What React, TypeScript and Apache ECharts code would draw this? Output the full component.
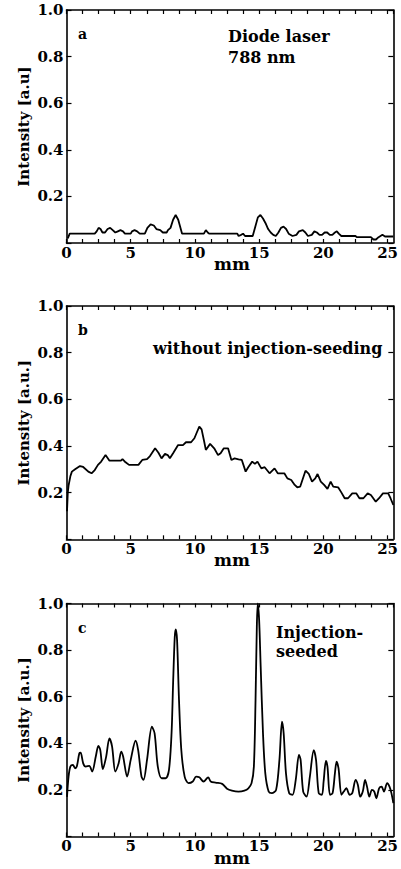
import React, { useEffect, useRef } from "react";
import * as echarts from "echarts";

const X_MAX = 25.45;
const xLabelValues = [0, 5, 10, 15, 20, 25];
const yLabelValues = [0.2, 0.4, 0.6, 0.8, 1.0];
const panelLabels = ["a", "b", "c"];
const yAxisNames = ["Intensity [a.u]", "Intensity [a.u.]", "Intensity [a.u.]"];
const xAxisName = "mm";
const annotationA = ["Diode laser", "788 nm"];
const annotationB = ["without injection-seeding"];
const annotationC = ["Injection-", "seeded"];

const seriesA: [number, number][] = [
  [0.1, 0.02], [0.25, 0.04], [2.2, 0.04], [2.35, 0.05], [2.5, 0.065], [2.65, 0.06], [2.8, 0.045],
  [3.0, 0.045], [3.2, 0.06], [3.4, 0.065], [3.6, 0.055], [3.8, 0.045], [4.0, 0.05], [4.2, 0.055],
  [4.4, 0.05], [4.55, 0.04], [5.0, 0.04], [5.1, 0.05], [5.3, 0.055], [5.5, 0.05], [5.7, 0.04],
  [6.1, 0.04], [6.3, 0.065], [6.55, 0.08], [6.8, 0.075], [7.0, 0.06], [7.3, 0.055], [7.5, 0.045],
  [7.8, 0.045], [7.9, 0.055], [8.1, 0.065], [8.3, 0.1], [8.5, 0.12], [8.7, 0.1], [8.85, 0.07],
  [9.0, 0.04], [10.7, 0.04], [10.85, 0.055], [11.0, 0.045], [11.1, 0.04], [13.3, 0.04], [13.4, 0.03],
  [13.6, 0.035], [13.75, 0.04], [13.9, 0.03], [14.5, 0.03], [14.7, 0.07], [14.9, 0.11], [15.1, 0.12],
  [15.3, 0.105], [15.5, 0.085], [15.7, 0.06], [15.9, 0.045], [16.1, 0.035], [16.3, 0.03], [16.5, 0.045],
  [16.7, 0.065], [16.9, 0.07], [17.1, 0.06], [17.3, 0.04], [17.6, 0.03], [17.9, 0.035], [18.1, 0.05],
  [18.4, 0.055], [18.6, 0.045], [18.8, 0.03], [19.1, 0.035], [19.3, 0.05], [19.5, 0.045], [19.7, 0.035],
  [19.9, 0.035], [20.1, 0.045], [20.3, 0.045], [20.5, 0.035], [20.7, 0.035], [20.9, 0.045], [21.05, 0.05],
  [21.2, 0.04], [21.4, 0.03], [22.5, 0.03], [22.6, 0.025], [23.7, 0.025], [23.9, 0.015], [24.1, 0.015],
  [24.3, 0.025], [24.6, 0.035], [24.8, 0.028], [25.45, 0.028],
];

const seriesB: [number, number][] = [
  [0.04, 0.12], [0.1, 0.2], [0.16, 0.23], [0.3, 0.27], [0.42, 0.29], [0.67, 0.3], [1.05, 0.314],
  [1.3, 0.31], [1.7, 0.29], [1.95, 0.283], [2.2, 0.297], [2.45, 0.319], [2.7, 0.333], [3.04, 0.361],
  [3.35, 0.337], [3.85, 0.337], [4.24, 0.337], [4.36, 0.344], [4.6, 0.33], [4.87, 0.319], [5.6, 0.319],
  [5.9, 0.34], [6.27, 0.344], [6.5, 0.357], [6.9, 0.39], [7.16, 0.371], [7.4, 0.347], [7.67, 0.366],
  [7.88, 0.361], [8.05, 0.347], [8.3, 0.369], [8.69, 0.404], [9.07, 0.404], [9.3, 0.416], [9.7, 0.416],
  [9.96, 0.433], [10.17, 0.461], [10.34, 0.483], [10.52, 0.471], [10.72, 0.419], [10.85, 0.383],
  [11.18, 0.409], [11.5, 0.39], [11.8, 0.361], [12.0, 0.369], [12.25, 0.39], [12.58, 0.39], [12.84, 0.34],
  [13.09, 0.347], [13.4, 0.343], [13.65, 0.34], [13.95, 0.29], [14.15, 0.309], [14.46, 0.333],
  [14.67, 0.323], [14.87, 0.333], [15.17, 0.304], [15.43, 0.309], [15.81, 0.283], [16.2, 0.304],
  [16.45, 0.283], [16.96, 0.283], [17.2, 0.261], [17.5, 0.254], [17.77, 0.233], [17.97, 0.223],
  [18.2, 0.226], [18.61, 0.294], [18.87, 0.28], [19.12, 0.247], [19.37, 0.261], [19.55, 0.28],
  [19.8, 0.247], [20.06, 0.233], [20.32, 0.216], [20.57, 0.247], [20.77, 0.226], [21.15, 0.223],
  [21.41, 0.2], [21.66, 0.176], [21.92, 0.176], [22.25, 0.197], [22.56, 0.197], [22.81, 0.176],
  [23.12, 0.176], [23.45, 0.197], [23.7, 0.19], [23.83, 0.18], [24.08, 0.161], [24.34, 0.176],
  [24.64, 0.197], [25.05, 0.197], [25.23, 0.176], [25.45, 0.147],
];

const seriesC: [number, number][] = [
  [0.04, 0.17], [0.16, 0.257], [0.3, 0.3], [0.5, 0.307], [0.67, 0.293], [0.8, 0.3], [1.0, 0.357],
  [1.1, 0.36], [1.3, 0.314], [1.5, 0.3], [1.77, 0.303], [2.0, 0.279], [2.28, 0.343], [2.48, 0.389],
  [2.63, 0.371], [2.83, 0.289], [3.09, 0.343], [3.34, 0.421], [3.55, 0.386], [3.8, 0.279], [4.06, 0.314],
  [4.26, 0.364], [4.41, 0.343], [4.72, 0.257], [5.0, 0.329], [5.38, 0.411], [5.58, 0.371], [5.84, 0.257],
  [6.0, 0.243], [6.27, 0.329], [6.65, 0.471], [6.86, 0.443], [7.11, 0.3], [7.41, 0.25], [7.72, 0.25],
  [7.98, 0.286], [8.18, 0.443], [8.3, 0.657], [8.43, 0.857], [8.51, 0.889], [8.61, 0.843], [8.76, 0.586],
  [8.94, 0.371], [9.2, 0.257], [9.5, 0.229], [9.83, 0.236], [10.09, 0.257], [10.34, 0.254], [10.67, 0.236],
  [11.03, 0.254], [11.23, 0.236], [11.61, 0.231], [12.12, 0.226], [12.5, 0.205], [12.88, 0.197],
  [13.39, 0.193], [13.85, 0.197], [14.16, 0.207], [14.41, 0.229], [14.59, 0.3], [14.72, 0.586],
  [14.82, 0.9], [14.89, 1.0], [15.0, 0.929], [15.12, 0.729], [15.3, 0.443], [15.48, 0.271],
  [15.74, 0.193], [15.99, 0.186], [16.32, 0.2], [16.58, 0.329], [16.78, 0.493], [16.91, 0.443],
  [17.09, 0.271], [17.34, 0.186], [17.6, 0.179], [17.85, 0.243], [18.1, 0.35], [18.23, 0.329],
  [18.43, 0.193], [18.69, 0.171], [18.95, 0.257], [19.25, 0.371], [19.43, 0.329], [19.64, 0.186],
  [19.89, 0.179], [20.02, 0.236], [20.2, 0.324], [20.32, 0.3], [20.52, 0.179], [20.72, 0.186],
  [20.9, 0.271], [21.03, 0.321], [21.18, 0.293], [21.41, 0.179], [21.59, 0.193], [21.79, 0.207],
  [22.05, 0.179], [22.25, 0.186], [22.51, 0.243], [22.69, 0.221], [22.87, 0.171], [23.07, 0.193],
  [23.25, 0.243], [23.4, 0.214], [23.58, 0.171], [23.78, 0.2], [23.96, 0.193], [24.13, 0.164],
  [24.34, 0.207], [24.54, 0.214], [24.72, 0.193], [24.97, 0.229], [25.15, 0.214], [25.3, 0.186],
  [25.45, 0.143],
];

const FONT = '"DejaVu Serif", "Liberation Serif", serif';

export default function App() {
  const ref = useRef<HTMLDivElement>(null);

  useEffect(() => {
    document.body.style.margin = "0";
    if (!ref.current) return;
    const chart = echarts.init(ref.current, undefined, { renderer: "svg" });

    const left = 66.5;
    const width = 333;
    const grids = [
      { top: 10, height: 233 },
      { top: 306, height: 233.3 },
      { top: 603.5, height: 233 },
    ];
    const data = [seriesA, seriesB, seriesC];

    const lineStyle = { color: "#000", width: 1.6 };
    const tickStyle = { color: "#000", width: 1.2 };

    const xAxes: any[] = [];
    const yAxes: any[] = [];
    const series: any[] = [];
    const graphics: any[] = [];

    grids.forEach((g, i) => {
      const common = {
        gridIndex: i,
        type: "value",
        min: 0,
        max: X_MAX,
        interval: 1.25,
        splitLine: { show: false },
        axisLine: { show: true, onZero: false, lineStyle },
        axisTick: { show: true, inside: true, length: 4, lineStyle: tickStyle },
      };
      xAxes.push({
        ...common,
        position: "bottom",
        axisLabel: {
          show: true,
          margin: 2,
          color: "#000",
          fontFamily: FONT,
          fontWeight: "bold",
          fontSize: 15,
          showMaxLabel: false,
          formatter: (v: number) =>
            xLabelValues.some((t) => Math.abs(t - v) < 1e-6) ? String(Math.round(v)) : "",
        },
      });
      xAxes.push({ ...common, position: "top", axisLabel: { show: false } });

      const yCommon = {
        gridIndex: i,
        type: "value",
        min: 0,
        max: 1,
        interval: 0.2,
        splitLine: { show: false },
        axisLine: { show: true, onZero: false, lineStyle },
        axisTick: { show: true, inside: true, length: 5, lineStyle: tickStyle },
      };
      yAxes.push({
        ...yCommon,
        position: "left",
        axisLabel: {
          show: true,
          margin: 3,
          color: "#000",
          fontFamily: FONT,
          fontWeight: "bold",
          fontSize: 15,
          formatter: (v: number) =>
            yLabelValues.some((t) => Math.abs(t - v) < 1e-6) ? v.toFixed(1) : "",
        },
      });
      yAxes.push({ ...yCommon, position: "right", axisLabel: { show: false } });

      series.push({
        type: "line",
        xAxisIndex: i * 2,
        yAxisIndex: i * 2,
        data: data[i],
        showSymbol: false,
        smooth: i === 2 ? 0.3 : false,
        lineStyle: { color: "#000", width: 1.8 },
        clip: true,
      });

      graphics.push({
        type: "text",
        x: 24,
        y: g.top + g.height / 2,
        rotation: Math.PI / 2,
        style: {
          text: yAxisNames[i],
          font: `bold 15px ${FONT}`,
          fill: "#000",
          textAlign: "center",
          textVerticalAlign: "middle",
        },
      });
      graphics.push({
        type: "text",
        x: left + width / 2 - 1,
        y: g.top + g.height + 21,
        style: {
          text: xAxisName,
          font: `bold 17px ${FONT}`,
          fill: "#000",
          textAlign: "center",
          textVerticalAlign: "middle",
        },
      });
      graphics.push({
        type: "text",
        x: 78,
        y: g.top + 24,
        style: {
          text: panelLabels[i],
          font: `bold 14px ${FONT}`,
          fill: "#000",
          textAlign: "left",
          textVerticalAlign: "middle",
        },
      });
    });

    const annot = (text: string, x: number, y: number) => ({
      type: "text",
      x,
      y,
      style: {
        text,
        font: `bold 16px ${FONT}`,
        fill: "#000",
        textAlign: "left",
        textVerticalAlign: "middle",
      },
    });
    graphics.push(annot(annotationA[0], 228, 36));
    graphics.push(annot(annotationA[1], 228, 57));
    graphics.push(annot(annotationB[0], 153, 348));
    graphics.push(annot(annotationC[0], 276, 632));
    graphics.push(annot(annotationC[1], 276, 651));

    chart.setOption({
      animation: false,
      backgroundColor: "#fff",
      grid: grids.map((g) => ({ left, width, top: g.top, height: g.height })),
      xAxis: xAxes,
      yAxis: yAxes,
      series,
      graphic: graphics,
    });

    return () => chart.dispose();
  }, []);

  return <div ref={ref} style={{ width: 401, height: 869 }} />;
}
